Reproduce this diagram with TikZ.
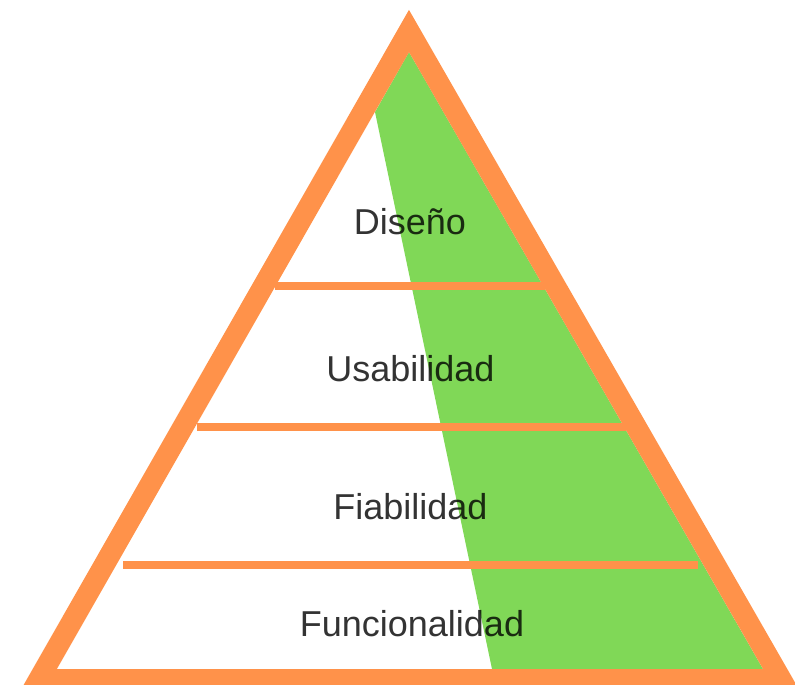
\documentclass[tikz,border=0pt]{standalone}
\usepackage{fontspec}
\setmainfont{Liberation Sans}
\definecolor{pyrorange}{RGB}{255,146,74}
\definecolor{pyrgreen}{RGB}{128,216,87}
\begin{document}
\begin{tikzpicture}[x=1pt,y=-1pt,
  frame/.style={draw=pyrorange,line width=21pt,line join=miter},
  divider/.style={draw=pyrorange,line width=8pt,line cap=butt},
  level/.style={anchor=base,font=\fontsize{36}{40}\selectfont,text=black,text opacity=0.8,inner sep=0pt}]
  \useasboundingbox (0,0) rectangle (795,685);
  \clip (0,0) rectangle (795,685);
  % green wedge on the right-hand side
  \fill[pyrgreen] (375,112) -- (409,52) -- (763,669) -- (492,669) -- cycle;
  % horizontal dividers between levels
  \coordinate (d1l) at (275,286); \coordinate (d1r) at (545,286);
  \coordinate (d2l) at (197,427); \coordinate (d2r) at (626,427);
  \coordinate (d3l) at (123,565); \coordinate (d3r) at (698,565);
  \draw[divider] (d1l) -- (d1r);
  \draw[divider] (d2l) -- (d2r);
  \draw[divider] (d3l) -- (d3r);
  % pyramid outline
  \coordinate (apex) at (409,31);
  \coordinate (bl) at (38.8,679.5);
  \coordinate (br) at (781.2,679.5);
  \draw[frame] (apex) -- (bl) -- (br) -- cycle;
  % level labels
  \node[level] (dis) at (410,234) {Diseño};
  \node[level] (usa) at (410.5,381) {Usabilidad};
  \node[level] (fia) at (410.5,519) {Fiabilidad};
  \node[level] (fun) at (412,636) {Funcionalidad};
\end{tikzpicture}
\end{document}
